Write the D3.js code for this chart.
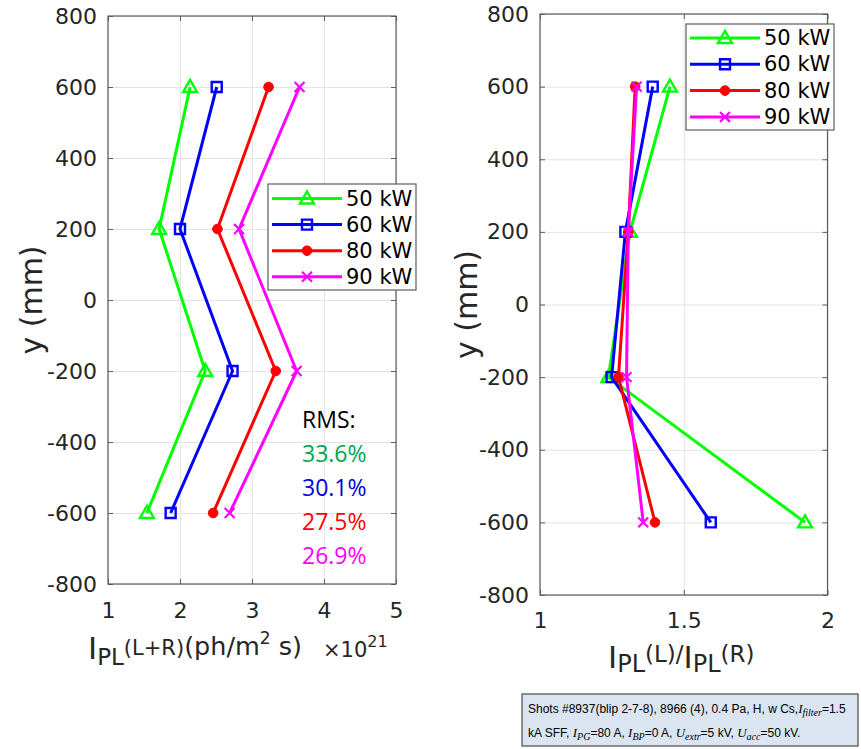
<!DOCTYPE html>
<html>
<head>
<meta charset="utf-8">
<script src="https://cdn.jsdelivr.net/npm/d3@7"></script>
<style>
  body { margin: 0; background: #fff; }
  svg { display: block; }
</style>
</head>
<body>
<svg id="chart" width="861" height="749"></svg>
<script>
// ---- data -------------------------------------------------------------
const depths = [600, 200, -200, -600];                 // y position (mm)
const powers = ["50 kW", "60 kW", "80 kW", "90 kW"];

// total line intensity I_PL(L+R), units of 1e21 ph/m^2 s
const sum50 = [2.14, 1.71, 2.35, 1.54];
const sum60 = [2.51, 2.00, 2.73, 1.87];
const sum80 = [3.23, 2.52, 3.33, 2.46];
const sum90 = [3.66, 2.82, 3.62, 2.69];

// left/right ratio I_PL(L)/I_PL(R)
const ratio50 = [1.452, 1.313, 1.238, 1.922];
const ratio60 = [1.392, 1.297, 1.249, 1.594];
const ratio80 = [1.331, 1.307, 1.273, 1.400];
const ratio90 = [1.336, 1.307, 1.301, 1.359];

const rmsTitle = "RMS:";
const rmsValues = ["33.6%", "30.1%", "27.5%", "26.9%"];

const yTicks = [-800, -600, -400, -200, 0, 200, 400, 600, 800];
const sumTicks = [1, 2, 3, 4, 5];
const ratioTicks = [1, 1.5, 2];

// ---- styles -----------------------------------------------------------
const lineColors = ["#00ff00", "#0000ff", "#ff0000", "#ff00ff"];
const rmsColors = ["#00a64f", "#0000e0", "#ff0000", "#ff00ff"];
const markerKinds = ["triangle", "square", "circle", "cross"];
const gridColor = "#e4e4e4";
const axisColor = "#5c5c5c";
const textColor = "#262626";
const tickFont = "DejaVu Sans, sans-serif";
const plain = d => String(d);

const svg = d3.select("#chart");
svg.append("rect").attr("width", 861).attr("height", 749).attr("fill", "#fff");

function drawMarker(sel, kind, color) {
  if (kind === "triangle") {
    sel.append("path").attr("d", d3.symbol(d3.symbolTriangle, 84)())
      .attr("transform", "translate(0,1)")
      .attr("fill", "none").attr("stroke", color).attr("stroke-width", 2.4);
  } else if (kind === "square") {
    sel.append("path").attr("d", d3.symbol(d3.symbolSquare, 100)())
      .attr("fill", "none").attr("stroke", color).attr("stroke-width", 2.4);
  } else if (kind === "circle") {
    sel.append("path").attr("d", d3.symbol(d3.symbolCircle, 72)())
      .attr("fill", color).attr("stroke", color).attr("stroke-width", 1);
  } else {
    sel.append("path").attr("d", d3.symbol(d3.symbolX, 66)())
      .attr("fill", "none").attr("stroke", color).attr("stroke-width", 2.2);
  }
}

function drawPanel(cfg) {
  const x = d3.scaleLinear().domain(cfg.xDomain).range([cfg.left, cfg.right]);
  const y = d3.scaleLinear().domain([-800, 800]).range([cfg.bottom, cfg.top]);
  const w = cfg.right - cfg.left, h = cfg.bottom - cfg.top;
  const g = svg.append("g");

  // grid
  g.append("g").attr("transform", `translate(0,${cfg.bottom})`)
    .call(d3.axisBottom(x).tickValues(cfg.xTicks).tickSize(-h).tickFormat(""))
    .call(a => a.select(".domain").remove())
    .call(a => a.selectAll("line").attr("stroke", gridColor));
  g.append("g").attr("transform", `translate(${cfg.left},0)`)
    .call(d3.axisLeft(y).tickValues(yTicks).tickSize(-w).tickFormat(""))
    .call(a => a.select(".domain").remove())
    .call(a => a.selectAll("line").attr("stroke", gridColor));

  // inward ticks on all four sides
  const tk = 5;
  const styleAxis = a => {
    a.select(".domain").remove();
    a.selectAll("line").attr("stroke", axisColor);
    a.selectAll("text").attr("font-family", tickFont).attr("font-size", 22).attr("fill", textColor);
  };
  g.append("g").attr("transform", `translate(0,${cfg.bottom})`)
    .call(d3.axisBottom(x).tickValues(cfg.xTicks).tickSize(-tk).tickPadding(cfg.xPad)
      .tickFormat(plain))
    .call(styleAxis);
  g.append("g").attr("transform", `translate(0,${cfg.top})`)
    .call(d3.axisTop(x).tickValues(cfg.xTicks).tickSize(-tk).tickFormat(""))
    .call(styleAxis);
  g.append("g").attr("transform", `translate(${cfg.left},0)`)
    .call(d3.axisLeft(y).tickValues(yTicks).tickSize(-tk).tickPadding(11).tickFormat(plain))
    .call(styleAxis);
  g.append("g").attr("transform", `translate(${cfg.right},0)`)
    .call(d3.axisRight(y).tickValues(yTicks).tickSize(-tk).tickFormat(""))
    .call(styleAxis);

  // frame
  g.append("rect").attr("x", cfg.left).attr("y", cfg.top).attr("width", w).attr("height", h)
    .attr("fill", "none").attr("stroke", axisColor).attr("stroke-width", 1.2);

  // series
  const line = d3.line().x(d => x(d.v)).y(d => y(d.d));
  cfg.series.forEach((vals, i) => {
    const pts = vals.map((v, k) => ({ v, d: depths[k] }));
    g.append("path").datum(pts).attr("d", line)
      .attr("fill", "none").attr("stroke", lineColors[i]).attr("stroke-width", 3)
      .attr("stroke-linejoin", "round");
    pts.forEach(p => {
      const m = g.append("g").attr("transform", `translate(${x(p.v)},${y(p.d)})`);
      drawMarker(m, markerKinds[i], lineColors[i]);
    });
  });

  // y label
  g.append("text")
    .attr("transform", `translate(${cfg.yLabelX},${(cfg.top + cfg.bottom) / 2}) rotate(-90)`)
    .attr("text-anchor", "middle").attr("dominant-baseline", "central")
    .attr("font-family", tickFont).attr("font-size", 30).attr("fill", textColor)
    .text("y (mm)");

  // legend
  const L = cfg.legend;
  g.append("rect").attr("x", L.x).attr("y", L.y).attr("width", L.w).attr("height", L.h)
    .attr("fill", "#fff").attr("stroke", axisColor).attr("stroke-width", 1.2);
  powers.forEach((name, i) => {
    const ry = L.rowY + i * L.step;
    g.append("line").attr("x1", L.x + 4).attr("x2", L.x + 74).attr("y1", ry).attr("y2", ry)
      .attr("stroke", lineColors[i]).attr("stroke-width", 3);
    const m = g.append("g").attr("transform", `translate(${L.x + 39},${ry})`);
    drawMarker(m, markerKinds[i], lineColors[i]);
    g.append("text").attr("x", L.x + 78).attr("y", ry).attr("dominant-baseline", "central")
      .attr("font-family", tickFont).attr("font-size", 21).attr("fill", "#000").text(name);
  });
  return { x, y, g };
}

// ---- left panel: total intensity --------------------------------------
const left = drawPanel({
  left: 108, right: 396, top: 16, bottom: 584,
  xDomain: [1, 5], xTicks: sumTicks, xPad: 18,
  series: [sum50, sum60, sum80, sum90],
  yLabelX: 31,
  legend: { x: 268, y: 184, w: 148, h: 106, rowY: 198.5, step: 26.1 }
});

// x label with TeX-like sub/superscripts
const lx = svg.append("text").attr("x", 88).attr("y", 655)
  .attr("font-family", tickFont).attr("fill", textColor).attr("font-size", 25);
lx.append("tspan").attr("font-size", 31).attr("dy", 4).text("I");
lx.append("tspan").attr("font-size", 23).attr("dy", 6).text("PL");
lx.append("tspan").attr("font-size", 21).attr("dy", -10).text("(L+R)");
lx.append("tspan").attr("font-size", 25.5).text("(ph/m");
lx.append("tspan").attr("font-size", 17).attr("dy", -11).text("2");
lx.append("tspan").attr("font-size", 25.5).attr("dy", 11).text(" s)");

const ex = svg.append("text").attr("x", 323).attr("y", 657)
  .attr("font-family", tickFont).attr("fill", textColor).attr("font-size", 21);
ex.append("tspan").text("\u00d710");
ex.append("tspan").attr("font-size", 16).attr("dy", -10).text("21");

// RMS annotation
svg.append("text").attr("x", 302).attr("y", 428)
  .attr("font-family", "Open Sans, sans-serif").attr("font-size", 23).attr("fill", "#000")
  .text(rmsTitle);
rmsValues.forEach((t, i) => {
  svg.append("text").attr("x", 302).attr("y", 462 + i * 33.9)
    .attr("font-family", "Open Sans, sans-serif").attr("font-size", 23)
    .attr("fill", rmsColors[i]).text(t);
});

// ---- right panel: left/right ratio ------------------------------------
const right = drawPanel({
  left: 540, right: 827.5, top: 14, bottom: 595,
  xDomain: [1, 2], xTicks: ratioTicks, xPad: 17,
  series: [ratio50, ratio60, ratio80, ratio90],
  yLabelX: 466,
  legend: { x: 686, y: 24, w: 148, h: 106, rowY: 38, step: 26.3 }
});

const rx = svg.append("text").attr("x", 608).attr("y", 662)
  .attr("font-family", tickFont).attr("fill", textColor).attr("font-size", 23);
rx.append("tspan").attr("font-size", 31).attr("dy", 6).text("I");
rx.append("tspan").attr("font-size", 24).attr("dy", 4).text("PL");
rx.append("tspan").attr("font-size", 23).attr("dy", -10).text("(L)/");
rx.append("tspan").attr("font-size", 31).attr("dy", 6).text("I");
rx.append("tspan").attr("font-size", 24).attr("dy", 4).text("PL");
rx.append("tspan").attr("font-size", 23).attr("dy", -10).text("(R)");

// ---- experiment note box ---------------------------------------------
svg.append("rect").attr("x", 522).attr("y", 694).attr("width", 336).attr("height", 52)
  .attr("fill", "#dbe5f1").attr("stroke", "#4a4a4a").attr("stroke-width", 1.2);

const noteFont = "Liberation Sans, Arial, sans-serif";
const mathFont = "Liberation Serif, DejaVu Serif, serif";
function mathVar(t, base, sub) {
  t.append("tspan").attr("font-family", mathFont).attr("font-style", "italic").attr("font-size", 13).text(base);
  t.append("tspan").attr("font-family", mathFont).attr("font-style", "italic").attr("font-size", 10)
    .attr("dy", 3).text(sub);
  return t;
}
const n1 = svg.append("text").attr("x", 528).attr("y", 713)
  .attr("font-family", noteFont).attr("font-size", 12).attr("fill", "#000");
n1.append("tspan").text("Shots #8937(blip 2-7-8), 8966 (4), 0.4 Pa, H, w Cs,");
mathVar(n1, "I", "filter");
n1.append("tspan").attr("dy", -3).text("=1.5");

const n2 = svg.append("text").attr("x", 528).attr("y", 737)
  .attr("font-family", noteFont).attr("font-size", 12).attr("fill", "#000");
n2.append("tspan").text("kA SFF, ");
mathVar(n2, "I", "PG");
n2.append("tspan").attr("dy", -3).text("=80 A, ");
mathVar(n2, "I", "BP");
n2.append("tspan").attr("dy", -3).text("=0 A, ");
mathVar(n2, "U", "extr");
n2.append("tspan").attr("dy", -3).text("=5 kV, ");
mathVar(n2, "U", "acc");
n2.append("tspan").attr("dy", -3).text("=50 kV.");
</script>
</body>
</html>
